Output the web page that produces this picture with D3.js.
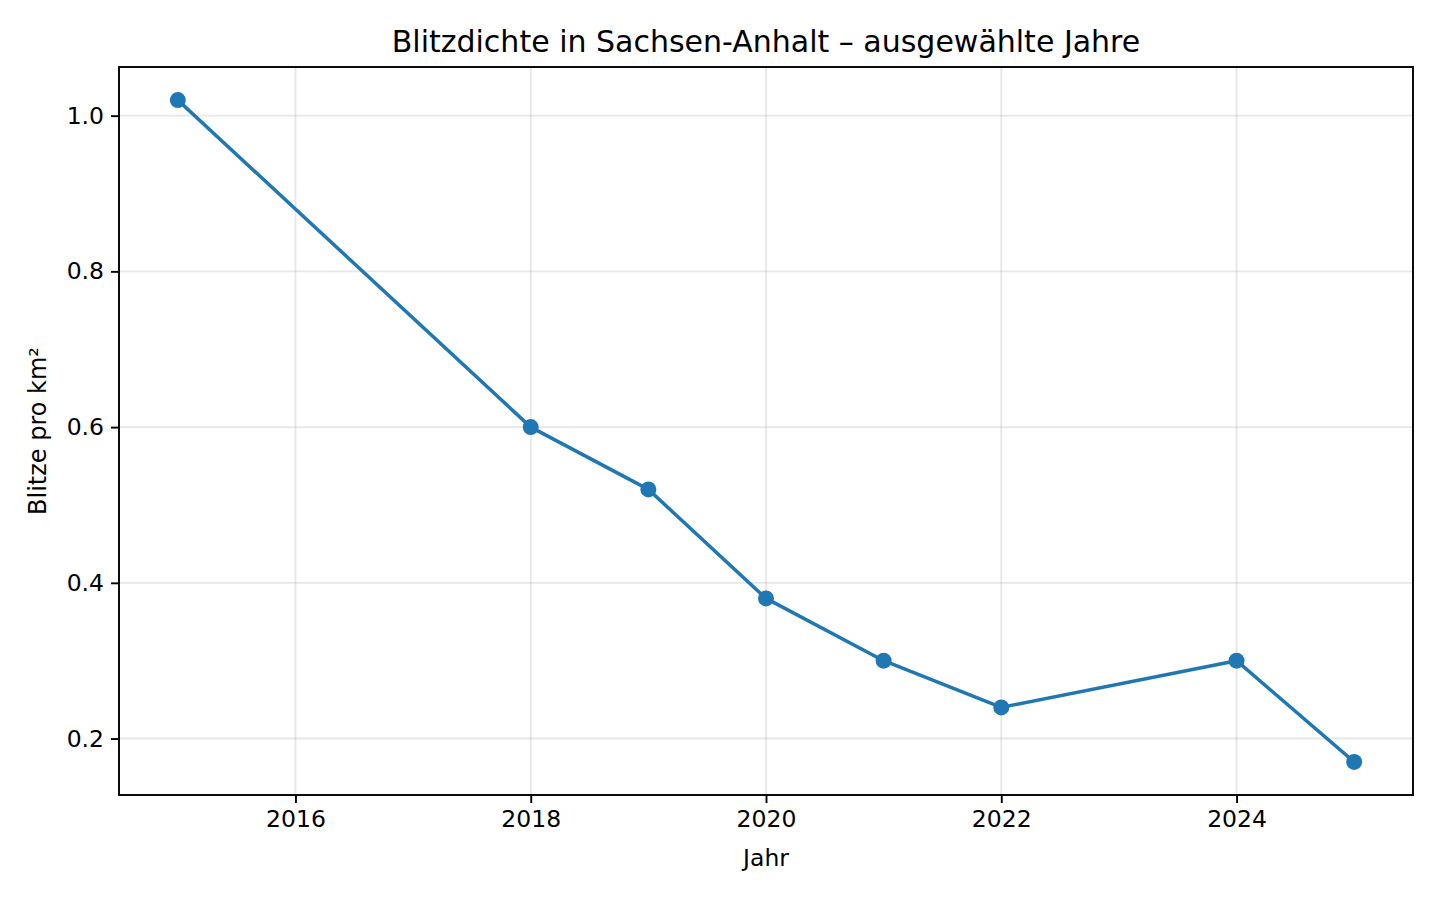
<!DOCTYPE html>
<html>
<head>
<meta charset="utf-8">
<script src="https://d3js.org/d3.v7.min.js"></script>
<style>
 body { margin: 0; background: #fff; }
 text { font-family: "DejaVu Sans", sans-serif; fill: #000; }
</style>
</head>
<body>
<svg id="chart" width="1440" height="900"></svg>
<script>
 var years  = [2015, 2018, 2019, 2020, 2021, 2022, 2024, 2025];
 var values = [1.02, 0.60, 0.52, 0.38, 0.30, 0.24, 0.30, 0.17];
 var xTicks = [2016, 2018, 2020, 2022, 2024];
 var yTicks = [0.2, 0.4, 0.6, 0.8, 1.0];

 var title  = "Blitzdichte in Sachsen-Anhalt – ausgewählte Jahre";
 var xLabel = "Jahr";
 var yLabel = "Blitze pro km²";

 // plot box (window.top is reserved, so use own names)
 var plotL = 119, plotR = 1413, plotT = 67, plotB = 795;
 var blue = "#1f77b4";

 var svg = d3.select("#chart");

 // matplotlib style margins (5% each side)
 var x = d3.scaleLinear().domain([2014.5, 2025.5]).range([plotL, plotR]);
 var y = d3.scaleLinear().domain([0.1275, 1.0625]).range([plotB, plotT]);

 // grid
 var grid = svg.append("g");
 xTicks.forEach(function(t) {
     grid.append("line")
         .attr("x1", x(t)).attr("x2", x(t))
         .attr("y1", plotT).attr("y2", plotB)
         .attr("stroke", "#b0b0b0").attr("stroke-opacity", 0.3)
         .attr("stroke-width", 1.9);
 });
 yTicks.forEach(function(t) {
     grid.append("line")
         .attr("x1", plotL).attr("x2", plotR)
         .attr("y1", y(t)).attr("y2", y(t))
         .attr("stroke", "#b0b0b0").attr("stroke-opacity", 0.3)
         .attr("stroke-width", 1.9);
 });

 // axes
 var xAxis = d3.axisBottom(x).tickValues(xTicks).tickFormat(d3.format("d"))
               .tickSize(8).tickPadding(7);
 var yAxis = d3.axisLeft(y).tickValues(yTicks).tickFormat(d3.format(".1f"))
               .tickSize(8).tickPadding(7);

 var gx = svg.append("g").attr("transform", "translate(0," + plotB + ")").call(xAxis);
 var gy = svg.append("g").attr("transform", "translate(" + plotL + ",0)").call(yAxis);
 [gx, gy].forEach(function(g) {
     g.select(".domain").remove();
     g.selectAll(".tick line").attr("stroke", "#000").attr("stroke-width", 1.9);
     g.selectAll(".tick text").attr("font-size", "23.5px")
      .attr("font-family", "DejaVu Sans").attr("fill", "#000");
 });

 // line + markers
 var pts = years.map(function(yr, i) { return [yr, values[i]]; });
 var line = d3.line()
              .x(function(d) { return x(d[0]); })
              .y(function(d) { return y(d[1]); });

 svg.append("path")
    .attr("d", line(pts))
    .attr("fill", "none")
    .attr("stroke", blue)
    .attr("stroke-width", 3.5)
    .attr("stroke-linejoin", "round")
    .attr("stroke-linecap", "square");

 svg.append("g").selectAll("circle")
    .data(pts)
    .enter()
    .append("circle")
    .attr("cx", function(d) { return x(d[0]); })
    .attr("cy", function(d) { return y(d[1]); })
    .attr("r", 8)
    .attr("fill", blue);

 // frame
 svg.append("rect")
    .attr("x", plotL).attr("y", plotT)
    .attr("width", plotR - plotL).attr("height", plotB - plotT)
    .attr("fill", "none").attr("stroke", "#000").attr("stroke-width", 1.9);

 // texts
 svg.append("text")
    .attr("x", (plotL + plotR) / 2).attr("y", 52)
    .attr("text-anchor", "middle")
    .attr("font-size", "30px")
    .text(title);

 svg.append("text")
    .attr("x", (plotL + plotR) / 2).attr("y", 866)
    .attr("text-anchor", "middle")
    .attr("font-size", "23.5px")
    .text(xLabel);

 svg.append("text")
    .attr("transform", "translate(46," + (plotT + plotB) / 2 + ") rotate(-90)")
    .attr("text-anchor", "middle")
    .attr("font-size", "24px")
    .text(yLabel);
</script>
</body>
</html>
